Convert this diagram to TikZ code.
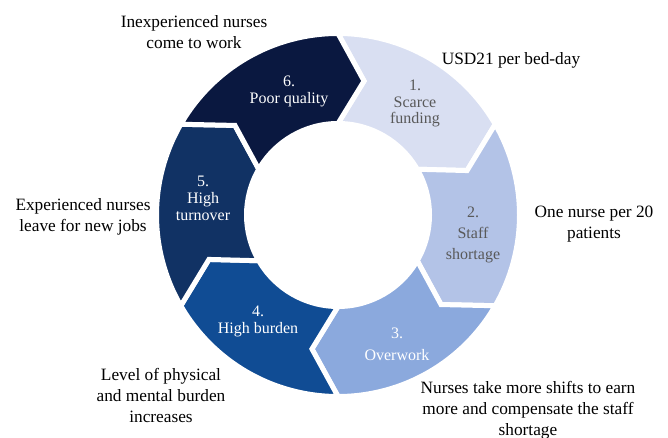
\documentclass[tikz,border=0pt]{standalone}
\usepackage{fontspec}
\setmainfont{Liberation Serif}
\definecolor{segA}{RGB}{217,223,242}
\definecolor{segB}{RGB}{179,195,231}
\definecolor{segC}{RGB}{139,169,221}
\definecolor{segD}{RGB}{16,76,148}
\definecolor{segE}{RGB}{17,50,100}
\definecolor{segF}{RGB}{10,24,64}
\definecolor{darktext}{RGB}{89,89,89}
\newcommand{\Ro}{181.5pt}
\newcommand{\Ri}{91.5pt}
\newcommand{\Rm}{136.5pt}
\newcommand{\cc}{11}
\newcommand{\cycseg}[2]{%
  \path[fill=#2, draw=white, line width=5pt, line join=miter]
    (#1:\Ro) arc[start angle=#1, end angle=#1-60, radius=\Ro]
    -- (#1-60-\cc:\Rm) -- (#1-60:\Ri)
    arc[start angle=#1-60, end angle=#1, radius=\Ri]
    -- (#1-\cc:\Rm) -- cycle;}
\tikzset{
  seglabel/.style={align=center, inner sep=0pt, font=\fontsize{16}{16.7}\selectfont},
  outlabel/.style={align=center, inner sep=0pt, text=black, font=\fontsize{17.3}{21}\selectfont}
}
\begin{document}
\begin{tikzpicture}[x=1pt,y=1pt]
\useasboundingbox (0,0) rectangle (668,438);
\begin{scope}[shift={(338,223)}]
  \cycseg{90}{segA}
  \cycseg{30}{segB}
  \cycseg{-30}{segC}
  \cycseg{-90}{segD}
  \cycseg{-150}{segE}
  \cycseg{150}{segF}
\end{scope}
% segment labels
\node[seglabel, text=darktext] (s1) at (415,334.5) {1.\\Scarce\\funding};
\node[seglabel, text=darktext, font=\fontsize{16}{21}\selectfont] (s2) at (473,203) {2.\\Staff\\shortage};
\node[seglabel, text=white, font=\fontsize{16}{22}\selectfont] (s3) at (397,94) {3.\\Overwork};
\node[seglabel, text=white] (s4) at (258,116.5) {4.\\High burden};
\node[seglabel, text=white] (s5) at (203,239.5) {5.\\High\\turnover};
\node[seglabel, text=white] (s6) at (289,346.5) {6.\\Poor quality};
% outer labels
\node[outlabel] (o1) at (511,378) {USD21 per bed-day};
\node[outlabel] (o2) at (594,214) {One nurse per 20\\patients};
\node[outlabel] (o3) at (528,28) {Nurses take more shifts to earn\\more and compensate the staff\\shortage};
\node[outlabel] (o4) at (161,43) {Level of physical\\and mental burden\\increases};
\node[outlabel] (o5) at (83,221) {Experienced nurses\\leave for new jobs};
\node[outlabel] (o6) at (194,406) {Inexperienced nurses\\come to work};
\end{tikzpicture}
\end{document}
